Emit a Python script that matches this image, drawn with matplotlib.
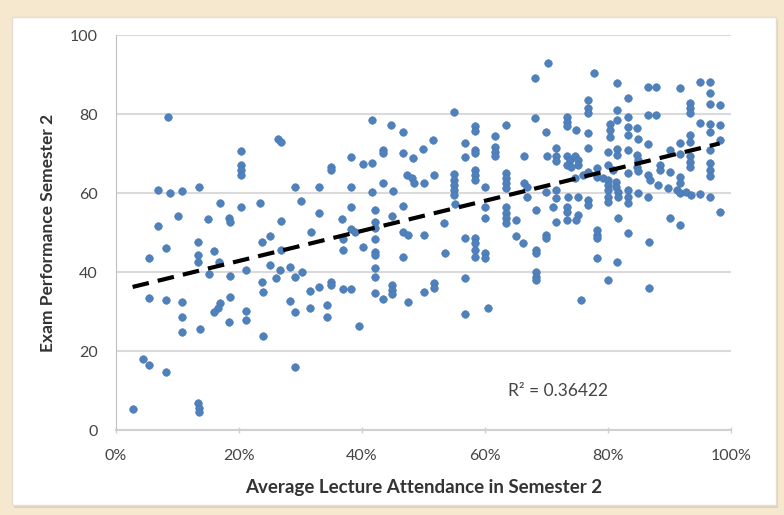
import numpy as np
import matplotlib
matplotlib.use("Agg")
import matplotlib.pyplot as plt
from matplotlib.patches import Rectangle
from matplotlib.ticker import PercentFormatter, MultipleLocator

# Average lecture attendance (%) and exam performance
attendance = [
    2.7, 4.4, 5.4, 8.1, 13.4, 13.5, 13.5, 29.1, 5.4, 8.1, 5.4, 8.1, 10.7, 10.7, 10.7, 13.7,
    13.4, 13.4, 13.4, 16.0, 16.8, 15.2, 18.5, 18.5, 16.9, 16.6, 15.9, 18.4, 21.1, 21.1, 21.1,
    23.7, 25.0, 23.7, 23.9, 23.9, 25.0, 26.8, 26.7, 26.1, 28.3, 29.1, 30.2, 28.3, 29.1, 31.5,
    31.5, 33.1,
    8.4, 6.9, 8.8, 10.7, 13.5, 20.3, 20.3, 20.3, 20.3, 26.4, 26.9, 29.1, 33.1, 16.9, 20.3,
    23.5, 30.1, 6.9, 10.1, 15.0, 18.4, 18.5, 26.8, 31.7, 33.1,
    55.0, 41.7, 44.8, 46.7, 58.4, 58.4, 63.4, 61.6, 61.6, 61.6, 61.6, 51.6, 50.0, 56.7, 58.4,
    58.4, 56.7, 43.5, 43.5, 46.7, 48.3, 38.3, 40.2, 41.7, 35.0, 35.0, 66.4, 38.3, 41.7, 43.5,
    45.1, 47.4, 48.1, 48.5, 50.1, 51.8, 55.0, 55.0, 55.0, 55.0, 55.0, 58.4, 58.4, 58.4, 60.1,
    63.4, 63.4, 63.4, 63.4, 38.3, 36.7, 42.1, 42.1, 44.9, 46.7, 53.4, 55.1, 60.1, 60.1, 63.4,
    63.4, 63.4, 63.4, 65.0, 66.4, 38.3, 38.9, 42.1, 46.7, 47.5, 50.1, 56.7, 58.4, 65.1,
    42.1, 42.1, 42.1, 42.1, 42.1, 37.0, 37.0, 40.2, 46.7, 53.5, 58.4, 58.4, 58.4, 60.1, 60.1,
    66.2, 35.0, 35.0, 37.0, 38.3, 42.2, 43.5, 44.9, 44.9, 44.9, 47.5, 50.1, 51.8, 51.8, 56.8,
    34.3, 34.3, 39.5, 56.8, 60.5,
    70.3, 68.2, 77.8, 81.5, 68.1, 70.0, 73.3, 73.3, 73.3, 74.9, 76.8, 76.8, 76.8, 76.8, 80.3,
    80.3, 80.3, 81.5, 81.5, 83.3, 83.3, 83.3, 83.3, 84.7, 84.9, 86.6, 87.8, 86.6, 87.8, 91.7,
    93.3, 93.3, 93.3, 95.0, 96.6, 96.6, 96.6, 98.2, 95.0, 96.6, 98.2, 96.6, 98.2, 96.6, 93.3,
    93.3, 91.7, 90.1, 91.7, 93.3, 93.3, 93.3, 96.6, 96.6, 96.6, 90.1, 91.7, 88.5, 88.5, 86.6,
    86.6, 86.8, 84.7, 84.9, 84.7, 84.9, 83.3, 83.3, 81.5, 81.5, 80.1, 80.1, 80.9, 78.2, 76.8,
    76.8, 70.1, 71.6, 71.6, 71.6, 73.3, 73.8, 74.6, 75.2, 73.3, 74.1, 75.2, 75.9, 74.6, 78.2,
    79.2, 80.1, 80.1, 80.1, 80.1, 80.1, 81.4, 81.4, 81.7, 81.7, 83.3, 83.3, 83.3, 84.9, 86.6,
    88.2, 89.8, 91.2, 91.7, 91.7, 92.8, 93.6, 95.0, 96.6, 98.2, 66.8, 66.8, 68.3, 70.0, 71.6,
    71.6, 71.1, 73.5, 75.2, 73.3, 73.3, 75.2, 76.8, 76.8, 71.6, 81.7, 90.1, 91.7, 78.2, 78.2,
    83.3, 70.0,
    68.3, 68.3, 70.0, 68.3, 68.3, 68.3, 78.2, 78.2, 81.5, 80.1, 75.6, 86.7, 86.7, 73.3, 74.9,
]
exam_score = [
    5.3, 17.9, 16.5, 14.7, 6.8, 5.6, 4.5, 15.9, 43.6, 46.0, 33.3, 32.9, 32.3, 28.7, 24.7, 25.5,
    47.5, 44.3, 42.5, 45.3, 42.6, 39.4, 39.1, 33.7, 32.1, 31.0, 29.8, 27.4, 40.5, 30.1, 27.8,
    47.5, 49.2, 37.5, 35.0, 23.9, 41.9, 45.6, 40.5, 38.4, 41.3, 38.8, 40.1, 32.7, 29.8, 35.2,
    30.8, 36.3,
    79.3, 60.8, 60.1, 60.6, 61.6, 70.7, 67.1, 65.8, 64.6, 73.6, 73.0, 61.4, 61.4, 57.6, 56.4,
    57.4, 58.0, 51.7, 54.3, 53.3, 53.6, 52.7, 53.0, 50.2, 54.9,
    80.4, 78.5, 77.2, 75.5, 77.0, 75.8, 77.2, 74.4, 71.6, 70.5, 69.4, 73.4, 71.1, 72.6, 70.9,
    70.1, 69.0, 70.9, 70.1, 70.2, 68.8, 69.0, 67.3, 67.5, 66.7, 65.8, 69.4, 61.4, 60.2, 62.5,
    60.6, 64.6, 63.7, 62.5, 62.6, 64.6, 64.8, 63.3, 62.0, 60.8, 59.5, 65.8, 64.6, 63.3, 61.6,
    65.0, 63.7, 62.5, 61.2, 56.5, 53.3, 55.7, 52.7, 54.2, 56.7, 52.5, 57.2, 56.5, 53.8, 56.5,
    54.9, 53.6, 52.5, 53.2, 62.5, 51.0, 50.2, 51.1, 50.2, 49.4, 49.4, 48.6, 48.6, 49.1,
    48.4, 45.1, 44.3, 40.9, 38.8, 45.6, 48.3, 46.4, 43.9, 44.7, 47.3, 45.6, 43.9, 44.7, 43.5,
    47.3, 37.5, 36.7, 35.7, 35.7, 34.6, 33.2, 36.7, 35.4, 34.4, 32.3, 34.9, 37.1, 35.9, 38.4,
    31.6, 28.7, 26.4, 29.4, 31.0,
    93.0, 89.0, 90.3, 87.9, 78.9, 75.5, 79.3, 78.1, 77.0, 75.9, 83.5, 81.4, 80.2, 75.3, 77.6,
    75.9, 74.3, 81.0, 78.5, 84.0, 79.3, 76.8, 74.7, 76.4, 73.6, 86.9, 86.9, 79.7, 79.7, 86.5,
    82.7, 81.4, 80.2, 88.2, 88.2, 85.2, 82.5, 82.3, 77.8, 77.5, 77.2, 75.5, 73.4, 70.9, 74.7,
    73.0, 72.6, 70.9, 70.0, 69.4, 67.9, 66.7, 67.5, 65.8, 64.3, 65.4, 64.1, 67.1, 65.8, 72.4,
    64.6, 63.3, 69.6, 68.4, 66.7, 65.6, 70.9, 65.0, 71.1, 69.6, 70.5, 67.1, 65.8, 66.3, 65.4,
    71.3, 69.4, 71.3, 69.4, 68.0, 69.4, 68.4, 69.4, 68.4, 67.1, 66.7, 67.1, 64.6, 63.7, 64.1,
    63.7, 63.3, 62.0, 60.8, 59.1, 57.8, 62.9, 61.6, 60.3, 59.1, 60.8, 59.1, 57.4, 59.9, 59.1,
    62.0, 61.2, 60.8, 62.5, 59.9, 60.3, 59.5, 59.7, 59.1, 55.3, 61.6, 59.1, 55.7, 60.3, 60.8,
    58.7, 56.5, 59.1, 59.1, 56.5, 55.3, 54.4, 58.2, 57.0, 52.7, 53.6, 53.6, 51.9, 50.6, 49.4,
    49.9, 49.4,
    45.6, 44.7, 48.5, 40.1, 38.8, 38.0, 48.5, 43.5, 42.6, 38.0, 32.9, 47.5, 35.9, 53.2, 53.2,
]
r_squared_label = "R² = 0.36422"

x = np.array(attendance)
y = np.array(exam_score)

plt.rcParams["font.family"] = ["Lato", "DejaVu Sans"]

fig = plt.figure(figsize=(7.84, 5.15), dpi=100)
fig.patch.set_facecolor("#f6e8cf")

# white chart panel with soft shadow
fig.add_artist(Rectangle((0.0175, 0.013), 0.975, 0.948, transform=fig.transFigure,
                         facecolor="#ddd2bd", edgecolor="none", zorder=-3))
fig.add_artist(Rectangle((0.0153, 0.0194), 0.9745, 0.9476, transform=fig.transFigure,
                         facecolor="white", edgecolor="#e4ddd0", linewidth=1, zorder=-2))

ax = fig.add_axes([0.148, 0.165, 0.784, 0.767])
ax.set_facecolor("white")
ax.set_zorder(1)

ax.scatter(x, y, s=30, color="#4f81bd", edgecolors="#4a78b0", linewidths=0.4, zorder=3)

slope, intercept = np.polyfit(x, y, 1)
xs = np.array([x.min(), x.max()])
ax.plot(xs, intercept + slope * xs, color="black", linestyle=(0, (4, 2.2)), linewidth=3,
        zorder=4)

ax.set_xlim(0, 100)
ax.set_ylim(0, 100)
ax.xaxis.set_major_locator(MultipleLocator(20))
ax.yaxis.set_major_locator(MultipleLocator(20))
ax.xaxis.set_major_formatter(PercentFormatter(100, decimals=0))

ax.grid(axis="y", color="#dadada", linewidth=1.5, zorder=0)
ax.set_axisbelow(True)
for side in ["top", "right"]:
    ax.spines[side].set_visible(False)
ax.spines["left"].set_color("#bfbfbf")
ax.spines["bottom"].set_color("#d0d0d0")
ax.spines["bottom"].set_linewidth(1.5)

ax.tick_params(axis="y", length=0, pad=13, labelsize=11.5, labelcolor="#444444")
ax.tick_params(axis="x", length=4, width=1, color="#d0d0d0", direction="inout", pad=12,
               labelsize=11.5, labelcolor="#444444")

ax.set_xlabel("Average Lecture Attendance in Semester 2", fontsize=13.5, fontweight="bold",
              color="#333333", labelpad=11)
ax.set_ylabel("Exam Performance Semester 2", fontsize=12.5, fontweight="bold",
              color="#333333", labelpad=10)

ax.text(63.7, 9.9, r_squared_label, fontsize=12.5, color="#444444", va="center", ha="left")

fig.savefig("out.png", dpi=100, facecolor=fig.get_facecolor())
